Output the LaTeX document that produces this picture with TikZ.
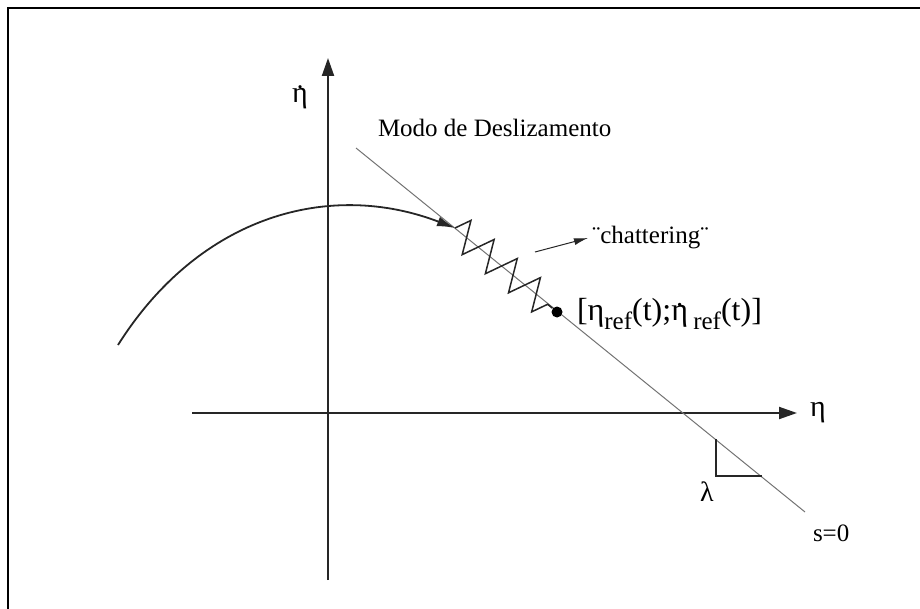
\documentclass[tikz,border=0pt]{standalone}
\usepackage{fontspec}
\setmainfont{Liberation Serif}
\usetikzlibrary{arrows.meta,decorations.pathmorphing}
\newcommand{\subref}{\raisebox{-0.6ex}{\fontsize{12.5}{13}\selectfont ref}}
\newcommand{\dotover}[1]{\ooalign{#1\cr\hidewidth\raisebox{-0.12em}{\char"02D9}\hidewidth\cr}}
\tikzset{
  frame/.style   = {draw=black, line width=1.1pt},
  axis/.style    = {draw=black!85, line width=1pt, -{Triangle[length=9pt,width=6pt]}},
  slide/.style   = {draw=black!55, line width=0.5pt},
  traj/.style    = {draw=black!85, line width=0.9pt, -{Latex[length=9pt,width=5pt]}},
  chatter/.style = {draw=black!85, line width=0.75pt, decorate,
                    decoration={zigzag, segment length=15pt, amplitude=8pt}},
  pointer/.style = {draw=black!85, line width=0.5pt, -{Latex[length=7pt,width=3.5pt]}},
  dot/.style     = {circle, fill=black, inner sep=0pt, minimum size=5.5pt},
  lab/.style     = {font=\fontsize{12.5}{14}\selectfont, inner sep=0pt, outer sep=0pt},
}
\begin{document}
\begin{tikzpicture}[x=0.5pt,y=-0.5pt]
\path[use as bounding box] (0,0) rectangle (920,609);

% ---- frame ----------------------------------------------------------------
\draw[frame] (920,8) -- (8,8) -- (8,609);

% ---- axes -----------------------------------------------------------------
\coordinate (vbot) at (328,580);
\coordinate (vtop) at (328,58);
\coordinate (hleft) at (192,413);
\coordinate (hright) at (797,413);
\draw[axis] (vbot) -- (vtop);
\draw[axis] (hleft) -- (hright);
\node[lab, font=\fontsize{15}{16}\selectfont] (etadot) at (300,97) {\dotover{η}};
\node[lab, font=\fontsize{15}{16}\selectfont] (eta) at (818,413) {η};

% ---- sliding surface s=0 ----------------------------------------------------
\coordinate (stop) at (356,148);
\coordinate (sbot) at (805,512);
\draw[slide] (stop) -- (sbot);
\node[lab, anchor=west] (mode) at (378,128) {Modo de Deslizamento};
\node[lab, anchor=west] (szero) at (813,533) {s=0};

% slope triangle
\coordinate (ltop) at (716,439);
\coordinate (lcorner) at (716,476);
\coordinate (lright) at (762,476);
\draw[black!85, line width=0.6pt] (ltop) -- (lcorner) -- (lright);
\node[lab, font=\fontsize{14}{15}\selectfont] (lambda) at (707,492) {λ};

% ---- trajectory -------------------------------------------------------------
\coordinate (start) at (118,345);
\coordinate (hit) at (455,228);
\draw[traj] (start) .. controls (200,215) and (330,180) .. (hit);

\node[dot] (ref) at (557,312) {};
\draw[chatter] (hit) -- (ref);
\node[lab, anchor=west, font=\fontsize{16}{17}\selectfont] (reflab) at (577,314)
  {[η\subref(t);\dotover{η}\,\subref(t)]};

% ---- chattering -------------------------------------------------------------
\node[lab, anchor=west] (chat) at (592,238) {¨chattering¨};
\coordinate (chatfrom) at (535,252);
\draw[pointer] (chatfrom) -- ([xshift=-2pt]chat.west);

\end{tikzpicture}
\end{document}
